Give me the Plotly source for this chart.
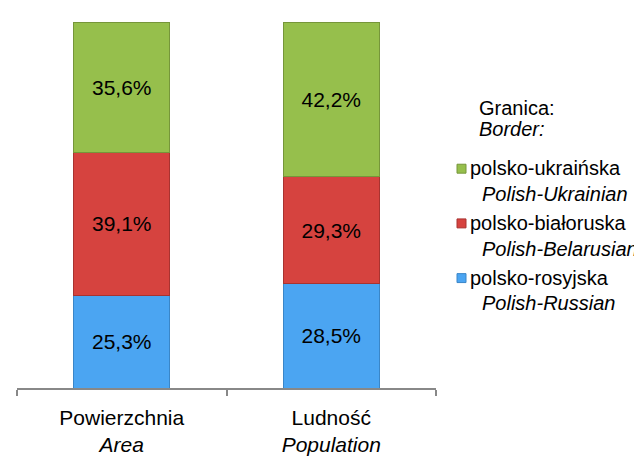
import plotly.graph_objects as go

categories = ["Powierzchnia<br><i>Area</i>", "Ludność<br><i>Population</i>"]
series_pl = ["polsko-rosyjska", "polsko-białoruska", "polsko-ukraińska"]
series_en = ["Polish-Russian", "Polish-Belarusian", "Polish-Ukrainian"]
russian = [25.3, 28.5]
belarusian = [39.1, 29.3]
ukrainian = [35.6, 42.2]
colors = ["#4BA5F2", "#D6433F", "#96BF4C"]
line_colors = ["#3A86C8", "#A83330", "#76963A"]

W, H = 642, 457
L, R, T, B = 9, 428, 14, 382
FONT = "Liberation Sans, Arial, sans-serif"
FS = 21
LFS = 20

fig = go.Figure()
for vals, c, lc, name in zip([russian, belarusian, ukrainian], colors, line_colors, series_pl):
    fig.add_trace(go.Bar(
        x=categories, y=vals, name=name,
        marker=dict(color=c, line=dict(color=lc, width=1)),
        text=[f"{v:.1f}%".replace(".", ",") for v in vals],
        textposition="inside", insidetextanchor="middle",
        textfont=dict(family=FONT, size=FS, color="black"),
        width=0.46,
    ))

def px(x):
    return (x - L) / (R - L)

def py(y):
    return (B - y) / (B - T)

ann = []
shapes = []
ann.append(dict(x=px(469), y=py(100), text="Granica:", showarrow=False, xanchor="left", yanchor="middle"))
ann.append(dict(x=px(469), y=py(122), text="<i>Border:</i>", showarrow=False, xanchor="left", yanchor="middle"))
legend_order = [2, 1, 0]
for k, i in enumerate(legend_order):
    y1 = 161 + 55 * k
    ann.append(dict(x=px(460), y=py(y1), text=series_pl[i], showarrow=False, xanchor="left", yanchor="middle"))
    ann.append(dict(x=px(472), y=py(y1 + 26), text=f"<i>{series_en[i]}</i>", showarrow=False, xanchor="left", yanchor="middle"))
    shapes.append(dict(type="rect", xref="paper", yref="paper",
                       x0=px(449), x1=px(458), y0=py(y1 + 5), y1=py(y1 - 4),
                       fillcolor=colors[i], line=dict(color=line_colors[i], width=1)))
for a in ann:
    a.update(xref="paper", yref="paper", font=dict(family=FONT, size=LFS, color="black"))

fig.update_layout(
    barmode="stack",
    width=W, height=H,
    margin=dict(l=L, r=W - R, t=T, b=H - B, pad=0),
    paper_bgcolor="white", plot_bgcolor="white",
    showlegend=False,
    annotations=ann, shapes=shapes,
    font=dict(family=FONT, size=FS, color="black"),
)
fig.update_xaxes(showline=True, linecolor="#888888", linewidth=1.5,
                 ticks="outside", tickson="boundaries", ticklen=6, tickcolor="#888888",
                 tickwidth=1.5, ticklabelstandoff=10,
                 tickfont=dict(family=FONT, size=FS, color="black"),
                 showgrid=False)
fig.update_yaxes(range=[0, 100], visible=False, showgrid=False)

fig.write_html("out.html")
